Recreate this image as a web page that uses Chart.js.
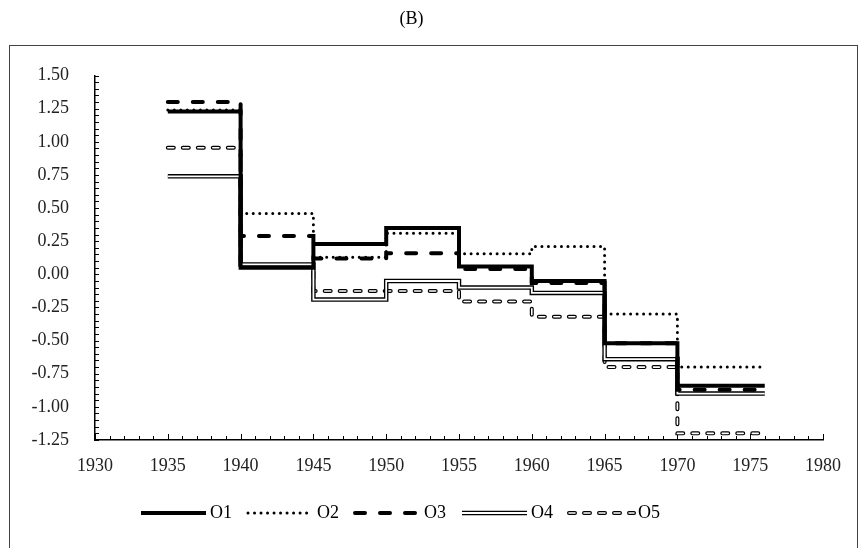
<!DOCTYPE html>
<html>
<head>
<meta charset="utf-8">
<script src="https://cdn.jsdelivr.net/npm/chart.js@4.4.0/dist/chart.umd.min.js"></script>
<style>
  html, body { margin: 0; padding: 0; background: #fff; }
</style>
</head>
<body>
<canvas id="chart-b" width="867" height="548"></canvas>
<script>
// step start years (last one is where the final step ends)
let years = [1935, 1940, 1945, 1950, 1955, 1960, 1965, 1970, 1976];
let o1 = [1.23, 0.05, 0.23, 0.35, 0.06, -0.05, -0.52, -0.84, -0.84];
let o2 = [1.24, 0.46, 0.13, 0.31, 0.155, 0.21, -0.3, -0.7, -0.7];
let o3 = [1.3, 0.29, 0.12, 0.16, 0.04, -0.065, -0.52, -0.87, -0.87];
let o4 = [0.74, 0.075, -0.19, -0.05, -0.1, -0.14, -0.64, -0.9, -0.9];
let o5 = [0.955, 0.07, -0.125, -0.125, -0.205, -0.32, -0.7, -1.2, -1.2];

let xMin = 1930, xMax = 1980, xStep = 5;
let yMin = -1.25, yMax = 1.5, yStep = 0.25;

let serif = "'Liberation Serif', 'Times New Roman', serif";

// each series is drawn as one or two stacked strokes (double lines = black + white)
let series = [
  { label: "O1", values: o1, rank: 1, layers: [
    { color: "#000", width: 4, dash: [], offset: 0, cap: "butt" },
  ]},
  { label: "O2", values: o2, rank: 0, layers: [
    { color: "#000", width: 3, dash: [0.01, 6.5], offset: 0, cap: "round" },
  ]},
  { label: "O3", values: o3, rank: 2, layers: [
    { color: "#000", width: 4, dash: [10, 15], offset: 0, cap: "round" },
  ]},
  { label: "O4", values: o4, rank: 3, layers: [
    { color: "#000", width: 4.5, dash: [], offset: 0, cap: "butt" },
    { color: "#fff", width: 1.8, dash: [], offset: 0, cap: "butt" },
  ]},
  { label: "O5", values: o5, rank: 4, layers: [
    { color: "#000", width: 4, dash: [6, 9], offset: 0, cap: "round" },
    { color: "#fff", width: 1.6, dash: [6, 9], offset: 0, cap: "round" },
  ]},
];

// legend sample: a short piece of the line, drawn a bit to the right so it sits close to the text
let makeSymbol = function (layers) {
  let c = document.createElement("canvas");
  c.width = 80;
  c.height = 12;
  let g = c.getContext("2d");
  layers.forEach(function (l) {
    g.strokeStyle = l.color;
    g.lineWidth = l.width;
    g.lineCap = l.cap;
    g.setLineDash(l.dash);
    g.lineDashOffset = l.offset;
    g.beginPath();
    g.moveTo(12, 6);
    g.lineTo(77, 6);
    g.stroke();
  });
  return c;
};

let datasets = [];
let legendItems = [];
series.forEach(function (s) {
  let pts = years.map(function (yr, i) {
    return { x: yr, y: s.values[i] };
  });
  legendItems.push({ text: s.label, symbol: makeSymbol(s.layers), index: datasets.length });
  s.layers.forEach(function (l, j) {
    datasets.push({
      label: j === 0 ? s.label : s.label + "-inner",
      data: pts,
      stepped: "before",
      borderColor: l.color,
      borderWidth: l.width,
      borderDash: l.dash,
      borderDashOffset: l.offset,
      borderCapStyle: l.cap,
      borderJoinStyle: "miter",
      pointRadius: 0,
      fill: false,
      order: s.rank * 10 + (s.layers.length - 1 - j),
    });
  });
});

// small inward tick marks, every year on x and every 0.05 on y
let minorTicks = {
  id: "minorTicks",
  beforeDatasetsDraw: function (chart) {
    let ctx = chart.ctx;
    let x = chart.scales.x;
    let y = chart.scales.y;
    ctx.save();
    ctx.strokeStyle = "#000";
    ctx.lineWidth = 1;
    ctx.beginPath();
    for (let v = xMin; v <= xMax; v++) {
      let px = Math.round(x.getPixelForValue(v)) + 0.5;
      let len = v % xStep === 0 ? 6 : 4;
      ctx.moveTo(px, y.bottom);
      ctx.lineTo(px, y.bottom - len);
    }
    let n = Math.round((yMax - yMin) / 0.05);
    for (let k = 0; k <= n; k++) {
      let py = Math.round(y.getPixelForValue(yMin + k * 0.05)) + 0.5;
      ctx.moveTo(x.left, py);
      ctx.lineTo(x.left + 4, py);
    }
    ctx.stroke();
    ctx.restore();
  },
};

let frame = {
  id: "frame",
  beforeDraw: function (chart) {
    let ctx = chart.ctx;
    ctx.save();
    ctx.strokeStyle = "#444";
    ctx.lineWidth = 1;
    ctx.strokeRect(9.5, 45.5, 848, 600);
    ctx.restore();
  },
};

let legendShift = {
  id: "legendShift",
  afterLayout: function (chart) {
    chart.legend.left -= 13;
    chart.legend.right -= 13;
  },
};

window.onload = function () {
  new Chart(document.getElementById("chart-b").getContext("2d"), {
    type: "line",
    data: { datasets: datasets },
    plugins: [frame, minorTicks, legendShift],
    options: {
      responsive: false,
      animation: false,
      layout: { padding: { top: 8, left: 0, right: 44, bottom: 16 } },
      plugins: {
        tooltip: { enabled: false },
        title: {
          display: true,
          text: "(B)",
          color: "#000",
          font: { family: serif, size: 18, weight: "normal" },
          padding: { top: 0, bottom: 46 },
        },
        legend: {
          position: "bottom",
          labels: {
            usePointStyle: true,
            pointStyleWidth: 64,
            padding: 12,
            color: "#111",
            font: { family: serif, size: 18 },
            generateLabels: function () {
              return legendItems.map(function (it) {
                return {
                  text: it.text,
                  pointStyle: it.symbol,
                  fillStyle: "#000",
                  strokeStyle: "#000",
                  lineWidth: 0,
                  hidden: false,
                  datasetIndex: it.index,
                };
              });
            },
          },
        },
      },
      scales: {
        x: {
          type: "linear",
          min: xMin,
          max: xMax,
          grid: { display: false, drawTicks: false },
          border: { display: true, color: "#000", width: 1.5 },
          ticks: {
            stepSize: xStep,
            padding: 15,
            color: "#222",
            maxRotation: 0,
            font: { family: serif, size: 18 },
            callback: function (v) { return String(v); },
          },
          afterFit: function (scale) { scale.height = 52; },
        },
        y: {
          type: "linear",
          min: yMin,
          max: yMax,
          grid: { display: false, drawTicks: false },
          border: { display: true, color: "#000", width: 1.5 },
          ticks: {
            stepSize: yStep,
            padding: 26,
            color: "#222",
            font: { family: serif, size: 18 },
            callback: function (v) { return Number(v).toFixed(2); },
          },
          afterFit: function (scale) { scale.width = 95; },
        },
      },
    },
  });
};
</script>
</body>
</html>
